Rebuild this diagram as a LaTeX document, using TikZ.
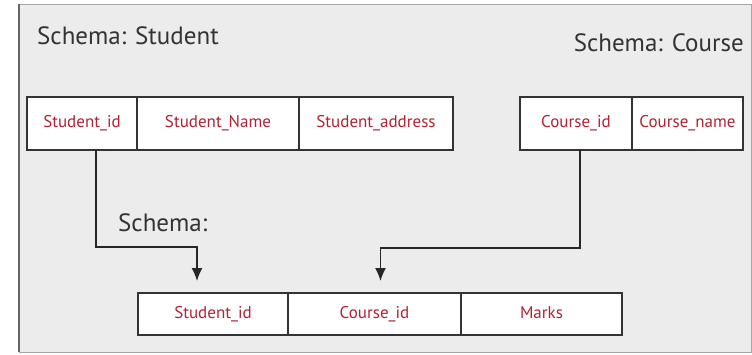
\documentclass[tikz,border=0pt]{standalone}
\usepackage{fontspec}
\setmainfont{PT Sans}
\usetikzlibrary{arrows,arrows.meta,positioning}
\definecolor{fieldred}{RGB}{178,34,52}
\definecolor{panel}{RGB}{236,236,236}
\tikzstyle{field} = [draw=black!80,line width=1.4pt,rectangle,fill=white,inner sep=0,outer sep=0,minimum height=53pt,text height=12pt,text depth=4pt,font=\fontsize{17}{20}\selectfont,text=fieldred]
\tikzstyle{lowfield} = [field,minimum height=42pt]
\tikzstyle{title} = [font=\fontsize{25}{28}\selectfont,text=black!80,inner sep=0]
\tikzstyle{link} = [-{Latex[length=13pt,width=11pt]},line width=1.4pt,black!85]
\def \gap {12pt}

\begin{document}
\begin{tikzpicture}[x=1pt,y=-1pt]
      \useasboundingbox (0,0) rectangle (752,354);
      \filldraw[fill=panel,draw=black!35,line width=1pt] (19,4) rectangle (751,352);
      \draw[line width=2.2pt,black!60] (19,4) -- (19,352);
      \node[title,anchor=west] (tstud) at (37,36) {Schema: Student};
      \node[title,anchor=east] (tcour) at (744,43) {Schema: Course};
      \node[title,anchor=west] (tlink) at (118,223) {Schema:};
      % top row
      \node[field,minimum width=110pt] (sid) at (82,123.5) {Student\_id};
      \node[field,minimum width=162pt,right=0pt of sid] (sname) {Student\_Name};
      \node[field,minimum width=154pt,right=0pt of sname] (saddr) {Student\_address};
      \node[field,minimum width=112pt] (cid) at (576,123.5) {Course\_id};
      \node[field,minimum width=111pt,right=0pt of cid] (cname) {Course\_name};
      % bottom row
      \node[lowfield,minimum width=150pt] (bsid) at (213,314) {Student\_id};
      \node[lowfield,minimum width=173pt,right=0pt of bsid] (bcid) {Course\_id};
      \node[lowfield,minimum width=161pt,right=0pt of bcid] (marks) {Marks};
      \draw[link] ([xshift=14pt]sid.south) -- ++(0,97) -| ([xshift=-16pt,yshift=\gap]bsid.north);
      \draw[link] ([xshift=4pt]cid.south) -- ++(0,98) -| ([xshift=6pt,yshift=\gap]bcid.north);
    \end{tikzpicture}
\end{document}
